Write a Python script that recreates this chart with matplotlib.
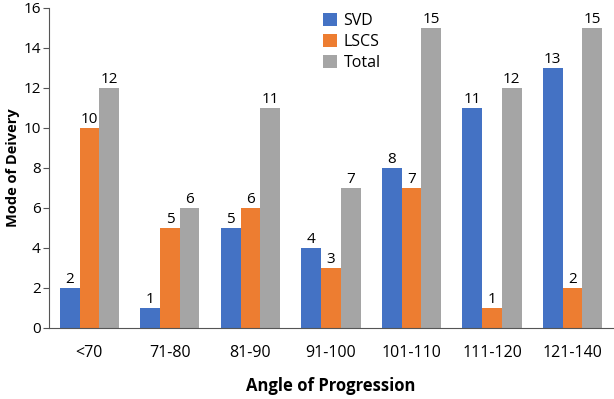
import matplotlib.pyplot as plt
import numpy as np

plt.rcParams['font.family'] = ['Open Sans', 'DejaVu Sans']

categories = ['<70', '71-80', '81-90', '91-100', '101-110', '111-120', '121-140']
svd = [2, 1, 5, 4, 8, 11, 13]
lscs = [10, 5, 6, 3, 7, 1, 2]
total = [12, 6, 11, 7, 15, 12, 15]

series = [('SVD', svd, '#4472C4'), ('LSCS', lscs, '#ED7D31'), ('Total', total, '#A5A5A5')]

fig = plt.figure(figsize=(6.14, 3.99), dpi=100)
ax = fig.add_axes([0.08, 0.178, 0.918, 0.802])

x = np.arange(len(categories))
w = 0.245
for i, (name, vals, color) in enumerate(series):
    bars = ax.bar(x + (i - 1) * w, vals, w, color=color, label=name)
    ax.bar_label(bars, padding=1, fontsize=11)

ax.set_xlim(-0.5, len(categories) - 0.5)
ax.set_ylim(0, 16)
ax.set_yticks(np.arange(0, 17, 2))
ax.set_xticks(x)
ax.set_xticklabels(categories)
ax.tick_params(axis='x', length=0, pad=12, labelsize=11.5)
ax.tick_params(axis='y', length=4, labelsize=11, color='#555555', pad=2)
for s in ['top', 'right']:
    ax.spines[s].set_visible(False)
ax.spines['left'].set_color('#555555')
ax.spines['bottom'].set_color('#555555')

ax.set_xlabel('Angle of Progression', fontweight='bold', fontsize=12, labelpad=12)
ax.set_ylabel('Mode of Deivery', fontweight='bold', fontsize=10.5)
ax.yaxis.set_label_coords(-0.052, 0.5)

ax.legend(loc='upper left', bbox_to_anchor=(0.46, 1.03), frameon=False, fontsize=11.5,
          handlelength=0.9, handleheight=0.9, handletextpad=0.4, labelspacing=0.3)

plt.savefig('out.png', dpi=100)
